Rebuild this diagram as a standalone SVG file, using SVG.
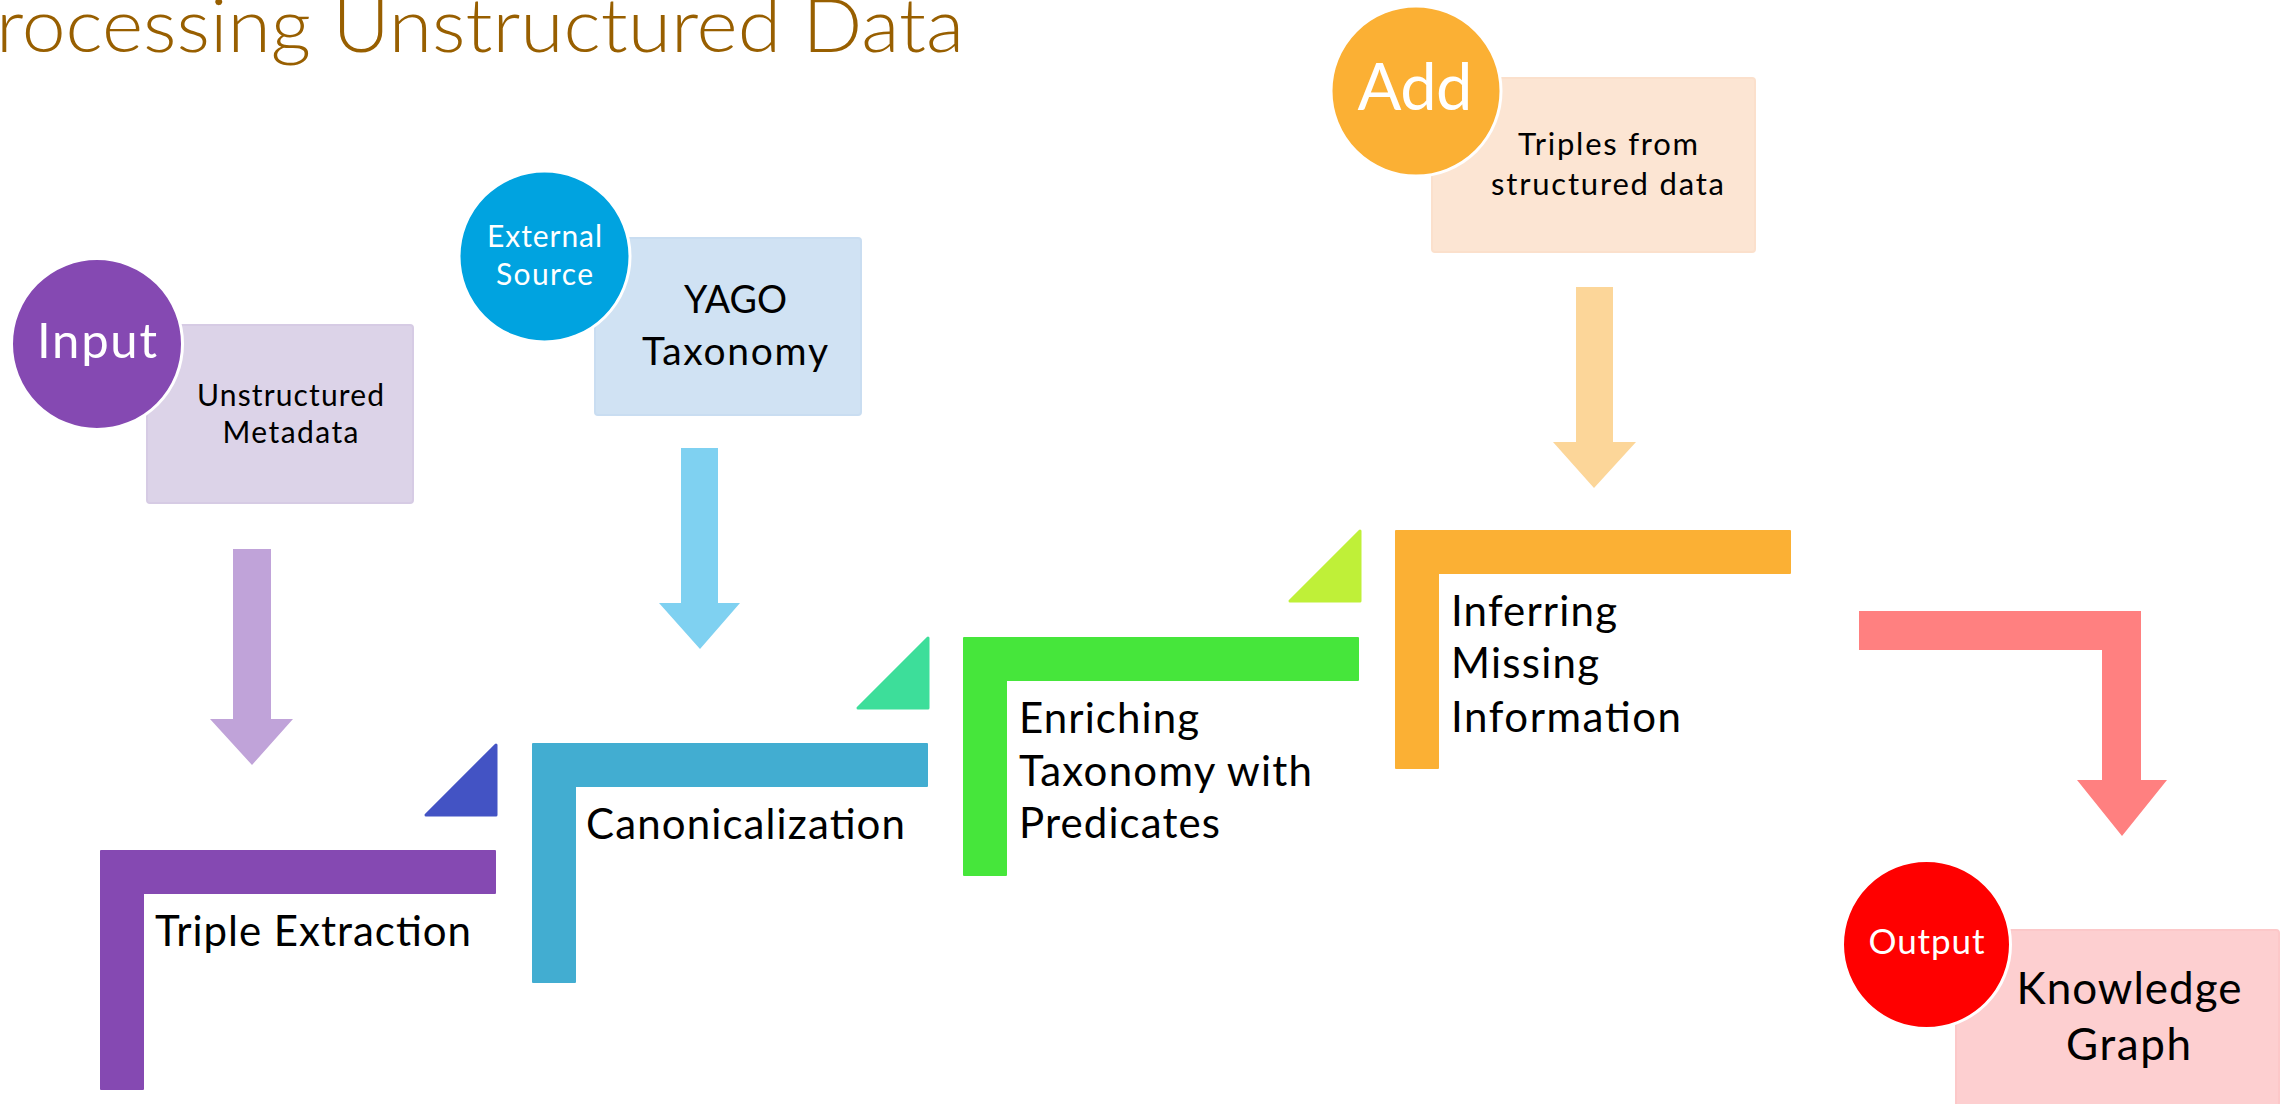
<svg xmlns="http://www.w3.org/2000/svg" width="2287" height="1104" viewBox="0 0 2287 1104">
<style>
.t{font-family:Lato,"Open Sans","Liberation Sans",sans-serif;fill:#000}
.w{font-family:Lato,"Open Sans","Liberation Sans",sans-serif;fill:#fff}
.mid{text-anchor:middle}
.ring{stroke:#fff;stroke-width:3}
.box{stroke-width:2}
</style>
<rect width="2287" height="1104" fill="#fff"/>
<g id="title">
<text x="-4" y="52" font-family="Lato,'Open Sans','Liberation Sans',sans-serif" font-weight="300" font-size="74" fill="#985F00" textLength="968" lengthAdjust="spacingAndGlyphs">rocessing Unstructured Data</text>
</g>
<g id="connectors">
<polygon points="233,549 271,549 271,719 293,719 252,765 210,719 233,719" fill="#C0A3D9"/>
<polygon points="681,448 718,448 718,603 740,603 700,649 659,603 681,603" fill="#7FD1F1"/>
<polygon points="1576,287 1613,287 1613,442 1636,442 1594,488 1553,442 1576,442" fill="#FCD699"/>
<polygon points="1859,611 2141,611 2141,780 2167,780 2122,836 2077,780 2102,780 2102,650 1859,650" fill="#FF8080"/>
</g>
<g id="node-input">
<rect class="box" x="147" y="325" width="266" height="178" rx="3" fill="#DCD3E8" stroke="#D6CBE4"/>
<circle class="ring" cx="97" cy="344" r="85.5" fill="#8549B2"/>
<text class="w mid" x="97" y="358" font-size="49" textLength="120">Input</text>
<text class="t mid" x="290.5" y="406" font-size="30" textLength="187">Unstructured</text>
<text class="t mid" x="290.5" y="443" font-size="30" textLength="136">Metadata</text>
</g>
<g id="node-external">
<rect class="box" x="595" y="238" width="266" height="177" rx="3" fill="#D0E2F3" stroke="#C9DDF1"/>
<circle class="ring" cx="544.5" cy="256.5" r="85.5" fill="#00A3E0"/>
<text class="w mid" x="544.5" y="247" font-size="30" textLength="115">External</text>
<text class="w mid" x="544.5" y="285" font-size="30" textLength="97">Source</text>
<text class="t mid" x="735.5" y="313" font-size="39" textLength="103" lengthAdjust="spacingAndGlyphs">YAGO</text>
<text class="t mid" x="735" y="365" font-size="39" textLength="186">Taxonomy</text>
</g>
<g id="node-add">
<rect class="box" x="1432" y="78" width="323" height="174" rx="3" fill="#FCE5D3" stroke="#FBE0CC"/>
<circle class="ring" cx="1416" cy="91" r="85" fill="#FBB034"/>
<text class="w mid" x="1415" y="110" font-size="65" textLength="115">Add</text>
<text class="t mid" x="1608" y="155" font-size="31" textLength="180">Triples from</text>
<text class="t mid" x="1607.5" y="195" font-size="31" textLength="233">structured data</text>
</g>
<g id="node-output">
<rect class="box" x="1956" y="930" width="323" height="180" rx="3" fill="#FDCFD0" stroke="#FCC8C9"/>
<circle class="ring" cx="1926.5" cy="944.5" r="84" fill="#FF0000"/>
<text class="w mid" x="1926.5" y="954" font-size="35" textLength="116">Output</text>
<text class="t mid" x="2129" y="1004" font-size="44" textLength="225">Knowledge</text>
<text class="t mid" x="2128.5" y="1060" font-size="44" textLength="125">Graph</text>
</g>
<g id="step-triple">
<path d="M101,851 H495 V893 H143 V1089 H101 Z" fill="#8549B2" stroke="#8549B2" stroke-width="2" stroke-linejoin="round"/>
<text class="t" x="155" y="946" font-size="42" textLength="316">Triple Extraction</text>
</g>
<g id="step-canon">
<path d="M426,815 L496,745 L496,815 Z" fill="#4353C4" stroke="#4353C4" stroke-width="3" stroke-linejoin="round"/>
<path d="M533,744 H927 V786 H575 V982 H533 Z" fill="#42ADD1" stroke="#42ADD1" stroke-width="2" stroke-linejoin="round"/>
<text class="t" x="586" y="839" font-size="42" textLength="319">Canonicalization</text>
</g>
<g id="step-enrich">
<path d="M858,708 L928,638 L928,708 Z" fill="#3DDE9A" stroke="#3DDE9A" stroke-width="3" stroke-linejoin="round"/>
<path d="M964,638 H1358 V680 H1006 V875 H964 Z" fill="#46E63B" stroke="#46E63B" stroke-width="2" stroke-linejoin="round"/>
<text class="t" x="1019" y="733" font-size="42" textLength="180">Enriching</text>
<text class="t" x="1019" y="786" font-size="42" textLength="293">Taxonomy with</text>
<text class="t" x="1019" y="838" font-size="42" textLength="201">Predicates</text>
</g>
<g id="step-infer">
<path d="M1290,601 L1360,531 L1360,601 Z" fill="#BFF038" stroke="#BFF038" stroke-width="3" stroke-linejoin="round"/>
<path d="M1396,531 H1790 V573 H1438 V768 H1396 Z" fill="#FBB034" stroke="#FBB034" stroke-width="2" stroke-linejoin="round"/>
<text class="t" x="1451" y="626" font-size="42" textLength="166">Inferring</text>
<text class="t" x="1451" y="678" font-size="42" textLength="148">Missing</text>
<text class="t" x="1451" y="732" font-size="42" textLength="230">Information</text>
</g>
</svg>
